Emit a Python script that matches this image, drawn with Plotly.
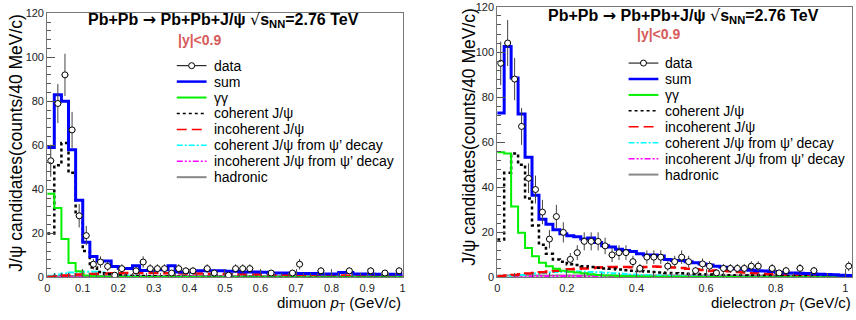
import numpy as np
import plotly.graph_objects as go

W, H = 856, 320
BIN = 0.02
FONT = "Liberation Sans, Arial, sans-serif"

# ---------------- Left panel: dimuon ----------------
mu_sum = [59, 83, 80, 58, 35, 16, 9.5, 7.5, 7.5, 5, 4, 4, 5.3, 3.2, 3.2, 3.5, 3.5, 5.3, 2.5, 2.5,
          3, 3, 3, 3, 3, 2.8, 2.8, 2.5, 2.5, 2.5, 2.3, 2, 2, 2, 2, 1.8, 1.8, 1.8, 1.6, 1.6,
          1.6, 2.2, 2.2, 1.5, 1.5, 1.5, 1.4, 1.4, 1.4, 1.4]
mu_gg = [38, 31.5, 17.5, 6.5, 2.8, 0.9, 0.5, 0.4, 0.3, 0.3, 0.3, 0.25, 0.25, 0.2, 0.2, 0.2, 0.2, 0.2, 0.15, 0.15,
         0.15, 0.15, 0.1, 0.1, 0.1, 0.1, 0.1, 0.1, 0.1, 0.1, 0.1, 0.1, 0.1, 0.1, 0.1, 0.1, 0.1, 0.1, 0.1, 0.1,
         0.1, 0.1, 0.1, 0.1, 0.1, 0.1, 0.1, 0.1, 0.1, 0.1]
mu_coh = [20, 51, 61, 47.5, 28.5, 12, 4.5, 2.5, 1.5, 1.2, 1.0, 0.8, 0.7, 0.6, 0.5, 0.5, 0.4, 0.4, 0.3, 0.3,
          0.25, 0.25, 0.2, 0.2, 0.2, 0.2, 0.15, 0.15, 0.15, 0.15, 0.1, 0.1, 0.1, 0.1, 0.1, 0.1, 0.1, 0.1, 0.1, 0.1,
          0.1, 0.1, 0.1, 0.1, 0.1, 0.1, 0.1, 0.1, 0.1, 0.1]
mu_incoh = [0.3, 0.6, 0.9, 1.1, 1.3, 1.5, 1.6, 1.7, 1.8, 1.9, 1.9, 2.0, 2.0, 2.0, 2.0, 2.0, 1.9, 1.9, 1.9, 1.8,
            1.8, 1.8, 1.7, 1.7, 1.6, 1.6, 1.5, 1.5, 1.4, 1.4, 1.3, 1.3, 1.2, 1.2, 1.1, 1.1, 1.0, 1.0, 1.0, 0.9,
            0.9, 0.9, 0.8, 0.8, 0.8, 0.8, 0.7, 0.7, 0.7, 0.7]
mu_coh_psi2s = [0.8, 1.3, 1.8, 2.2, 2.5, 2.6, 2.6, 2.4, 2.0, 1.6, 1.2, 0.9, 0.7, 0.5, 0.4, 0.3, 0.3, 0.2, 0.2, 0.2,
                0.15, 0.15, 0.1, 0.1, 0.1, 0.1, 0.1, 0.1, 0.1, 0.1, 0.1, 0.1, 0.1, 0.1, 0.1, 0.1, 0.1, 0.1, 0.1, 0.1,
                0.1, 0.1, 0.1, 0.1, 0.1, 0.1, 0.1, 0.1, 0.1, 0.1]
mu_incoh_psi2s = [0.1, 0.2, 0.3, 0.35, 0.4, 0.4, 0.45, 0.45, 0.45, 0.45, 0.45, 0.45, 0.4, 0.4, 0.4, 0.4, 0.35, 0.35, 0.35, 0.35,
                  0.3, 0.3, 0.3, 0.3, 0.3, 0.3, 0.25, 0.25, 0.25, 0.25, 0.25, 0.25, 0.2, 0.2, 0.2, 0.2, 0.2, 0.2, 0.2, 0.2,
                  0.2, 0.2, 0.2, 0.2, 0.2, 0.2, 0.2, 0.2, 0.2, 0.2]
mu_hadronic = [0.6, 0.6, 0.6, 0.6, 0.6, 0.6, 0.6, 0.6, 0.6, 0.6, 0.6, 0.6, 0.6, 0.6, 0.6, 0.6, 0.6, 0.6, 0.6, 0.6,
               0.6, 0.6, 0.6, 0.6, 0.6, 0.6, 0.6, 0.6, 0.6, 0.6, 0.6, 0.6, 0.6, 0.6, 0.6, 0.6, 0.6, 0.6, 0.6, 0.6,
               0.6, 0.6, 0.6, 0.6, 0.6, 0.6, 0.6, 0.6, 0.6, 0.6]
mu_data_x = [0.01, 0.03, 0.05, 0.07, 0.09, 0.11, 0.13, 0.15, 0.17, 0.19, 0.21, 0.25, 0.27, 0.29, 0.31, 0.33, 0.35,
             0.37, 0.39, 0.41, 0.45, 0.47, 0.51, 0.53, 0.55, 0.57, 0.63, 0.69, 0.71, 0.77, 0.85, 0.91, 0.95, 0.99]
mu_data_y = [53, 79, 92, 67, 28, 19, 6, 7, 5, 1, 4, 3, 7, 4, 4, 4, 2,
             4, 3, 3, 4, 2, 1, 4, 4, 4, 2, 2, 6, 3, 3, 3, 2, 3]
mu_data_err = [7.3, 8.9, 9.6, 8.2, 5.3, 4.4, 2.4, 2.6, 2.2, 1.0, 2.0, 1.7, 2.6, 2.0, 2.0, 2.0, 1.4,
               2.0, 1.7, 1.7, 2.0, 1.4, 1.0, 2.0, 2.0, 2.0, 1.4, 1.4, 2.4, 1.7, 1.7, 1.7, 1.4, 1.7]

# ---------------- Right panel: dielectron ----------------
el_sum = [73, 102.5, 88.5, 72.5, 53.3, 36.5, 25.8, 23.6, 21.2, 19.4, 18.5, 18, 17, 17.5, 15.5, 14, 13.5, 12.5, 12, 11.5,
          10.5, 10, 10, 9.5, 8, 7.5, 7.5, 7, 6.5, 6, 5.5, 5, 4.5, 4, 3.8, 3.6, 3.2, 3.0, 2.8, 2.6,
          2.2, 2.0, 2.0, 1.9, 1.7, 1.5, 1.4, 1.3, 1.2, 1.0, 0.9]
el_gg = [55.5, 55, 31.5, 19.8, 13, 9.4, 6.5, 5, 3.8, 3.0, 2.5, 2.2, 1.8, 1.4, 1.1, 0.9, 0.8, 0.6, 0.5, 0.5,
         0.4, 0.4, 0.3, 0.3, 0.3, 0.25, 0.25, 0.2, 0.2, 0.2, 0.2, 0.15, 0.15, 0.15, 0.15, 0.1, 0.1, 0.1, 0.1, 0.1,
         0.1, 0.1, 0.1, 0.1, 0.1, 0.1, 0.1, 0.1, 0.1, 0.1, 0.1]
el_coh = [16.8, 46.4, 55, 50, 35, 23, 14.5, 10.5, 8, 7, 5.8, 5.5, 5, 4.6, 4.3, 4, 3.8, 3.5, 3.2, 3.0,
          2.8, 2.6, 2.4, 2.2, 2.0, 1.9, 1.8, 1.6, 1.5, 1.4, 1.3, 1.2, 1.1, 1.0, 0.9, 0.9, 0.8, 0.8, 0.7, 0.7,
          0.6, 0.6, 0.6, 0.5, 0.5, 0.5, 0.5, 0.4, 0.4, 0.4, 0.4]
el_incoh = [0.5, 0.8, 1.1, 1.4, 1.7, 2.0, 2.3, 2.6, 3.0, 3.3, 3.6, 3.8, 4.0, 4.2, 4.4, 4.5, 4.6, 4.6, 4.6, 4.5,
            4.5, 4.6, 4.8, 4.7, 4.5, 4.4, 4.2, 3.9, 3.6, 3.3, 2.9, 3.1, 3.0, 2.7, 2.4, 2.2, 2.0, 1.8, 1.6, 1.4,
            1.2, 1.1, 1.0, 0.9, 0.8, 0.8, 0.7, 0.6, 0.6, 0.5, 0.4]
el_coh_psi2s = [0.3, 0.5, 0.8, 1.1, 1.4, 1.7, 2.0, 2.2, 2.4, 2.5, 2.6, 2.6, 2.5, 2.4, 2.3, 2.1, 1.9, 1.7, 1.5, 1.3,
                1.1, 1.0, 0.9, 0.8, 0.7, 0.6, 0.5, 0.5, 0.4, 0.4, 0.3, 0.3, 0.3, 0.25, 0.25, 0.2, 0.2, 0.2, 0.2, 0.15,
                0.15, 0.15, 0.1, 0.1, 0.1, 0.1, 0.1, 0.1, 0.1, 0.1, 0.1]
el_incoh_psi2s = [0.2, 0.3, 0.4, 0.5, 0.5, 0.6, 0.6, 0.6, 0.6, 0.6, 0.6, 0.6, 0.55, 0.55, 0.5, 0.5, 0.5, 0.5, 0.45, 0.45,
                  0.45, 0.4, 0.4, 0.4, 0.4, 0.35, 0.35, 0.35, 0.35, 0.3, 0.3, 0.3, 0.3, 0.3, 0.3, 0.25, 0.25, 0.25, 0.25, 0.25,
                  0.2, 0.2, 0.2, 0.2, 0.2, 0.2, 0.2, 0.2, 0.2, 0.2, 0.2]
el_hadronic = [0.9, 0.9, 0.9, 0.9, 0.9, 0.9, 0.9, 0.9, 0.9, 0.9, 0.9, 0.9, 0.9, 0.9, 0.9, 0.9, 0.9, 0.9, 0.9, 0.9,
               0.9, 0.9, 0.9, 0.9, 0.9, 0.9, 0.9, 0.9, 0.9, 0.9, 0.9, 0.9, 0.9, 0.9, 0.9, 0.9, 0.9, 0.9, 0.9, 0.9,
               0.9, 0.9, 0.9, 0.9, 0.9, 0.9, 0.9, 0.9, 0.9, 0.9, 0.9]
el_data_x = [0.01, 0.03, 0.05, 0.07, 0.09, 0.11, 0.13, 0.15, 0.17, 0.19, 0.21, 0.23, 0.25, 0.27, 0.29, 0.31, 0.33,
             0.35, 0.37, 0.39, 0.41, 0.43, 0.45, 0.47, 0.49, 0.51, 0.53, 0.55, 0.57, 0.59, 0.61, 0.63, 0.65, 0.67,
             0.69, 0.71, 0.73, 0.75, 0.79, 0.81, 0.83, 0.87, 0.91, 1.01]
el_data_y = [95, 104, 88, 67, 44, 39, 29, 17, 27, 20, 8, 11, 16, 16, 16, 14, 10,
             11, 11, 7, 4, 9, 9, 9, 5, 7, 9, 7, 3, 6, 5, 2, 4, 4,
             4, 4, 5, 5, 4, 2, 3, 4, 3, 5]
el_data_err = [9.7, 10.2, 9.4, 8.2, 6.6, 6.2, 5.4, 4.1, 5.2, 4.5, 2.8, 3.3, 4.0, 4.0, 4.0, 3.7, 3.2,
               3.3, 3.3, 2.6, 2.0, 3.0, 3.0, 3.0, 2.2, 2.6, 3.0, 2.6, 1.7, 2.4, 2.2, 1.4, 2.0, 2.0,
               2.0, 2.0, 2.2, 2.2, 2.0, 1.4, 1.7, 2.0, 1.7, 2.2]

legend_labels = ["data", "sum", "γγ", "coherent J/ψ", "incoherent J/ψ",
                 "coherent J/ψ from ψ’ decay", "incoherent J/ψ from ψ’ decay", "hadronic"]

STYLES = {
    "sum": dict(color="#0000ff", width=3, dash="solid"),
    "gg": dict(color="#00f000", width=2, dash="solid"),
    "coh": dict(color="#000000", width=2.5, dash="dot"),
    "incoh": dict(color="#ff0000", width=2.5, dash="10px,5px"),
    "cohpsi": dict(color="#00ffff", width=2, dash="6px,2px,2px,2px"),
    "incohpsi": dict(color="#ff00ff", width=2, dash="6px,2px,2px,2px,2px,2px"),
    "had": dict(color="#888888", width=2, dash="solid"),
}

fig = go.Figure()


def add_step(vals, style, xa, ya):
    edges = np.arange(len(vals) + 1) * BIN
    yv = list(vals) + [vals[-1]]
    fig.add_trace(go.Scatter(x=edges, y=yv, mode="lines", line_shape="hv",
                             line=style, xaxis=xa, yaxis=ya, showlegend=False,
                             hoverinfo="skip"))


def add_panel(series, dx, dy, derr, xa, ya):
    for key in ["had", "incohpsi", "cohpsi", "incoh", "coh", "gg", "sum"]:
        add_step(series[key], STYLES[key], xa, ya)
    # error bars first (drawn under the markers)
    fig.add_trace(go.Scatter(
        x=dx, y=dy, mode="markers", xaxis=xa, yaxis=ya, showlegend=False, hoverinfo="skip",
        marker=dict(size=2, color="rgba(0,0,0,0)"),
        error_y=dict(type="data", array=derr, color="#444444", thickness=1, width=0),
        error_x=dict(type="constant", value=BIN / 2, color="#444444", thickness=1, width=0),
    ))
    fig.add_trace(go.Scatter(
        x=dx, y=dy, mode="markers", xaxis=xa, yaxis=ya, showlegend=False,
        marker=dict(symbol="circle", size=6, color="white", line=dict(color="black", width=1)),
    ))


add_panel(dict(sum=mu_sum, gg=mu_gg, coh=mu_coh, incoh=mu_incoh, cohpsi=mu_coh_psi2s,
               incohpsi=mu_incoh_psi2s, had=mu_hadronic),
          mu_data_x, mu_data_y, mu_data_err, "x", "y")
add_panel(dict(sum=el_sum, gg=el_gg, coh=el_coh, incoh=el_incoh, cohpsi=el_coh_psi2s,
               incohpsi=el_incoh_psi2s, had=el_hadronic),
          el_data_x, el_data_y, el_data_err, "x2", "y2")

# ---- layout geometry (pixels) ----
L = dict(x0=44.5, x1=402.5, yb=282, yt=7.5)
R = dict(x0=497.7, x1=855.2, yb=282, yt=1.0)


def px(x):
    return x / W


def py(y):
    return 1 - y / H


axis_common = dict(showline=True, mirror=True, linecolor="#777777", linewidth=1,
                   ticks="inside", ticklen=8, tickcolor="#555555", showgrid=False, zeroline=False,
                   tickfont=dict(family=FONT, size=11, color="#222222"))

fig.update_layout(
    width=W, height=H, margin=dict(l=0, r=0, t=0, b=0),
    paper_bgcolor="white", plot_bgcolor="white", showlegend=False,
    xaxis=dict(domain=[px(L["x0"]), px(L["x1"])], range=[0, 1], dtick=0.1, anchor="y",
               minor=dict(dtick=0.02, ticklen=4, ticks="inside", tickcolor="#555555"), **axis_common),
    yaxis=dict(domain=[py(L["yb"]), py(L["yt"])], range=[0, 120], dtick=20, anchor="x",
               minor=dict(dtick=4, ticklen=4, ticks="inside", tickcolor="#555555"), **axis_common),
    xaxis2=dict(domain=[px(R["x0"]), px(R["x1"])], range=[0, 1.02], dtick=0.2, anchor="y2",
                minor=dict(dtick=0.05, ticklen=4, ticks="inside", tickcolor="#555555"), **axis_common),
    yaxis2=dict(domain=[py(R["yb"]), py(R["yt"])], range=[0, 120], dtick=20, anchor="x2",
                minor=dict(dtick=4, ticklen=4, ticks="inside", tickcolor="#555555"), **axis_common),
)

annotations = []
shapes = []

SYM = "DejaVu Sans"
TITLE = ("Pb+Pb <span style='font-family:" + SYM + "'>→</span> Pb+Pb+J/ψ "
         "<span style='font-family:" + SYM + ";font-weight:normal'>√</span>s<sub>NN</sub>=2.76 TeV")
YTITLE = "J/ψ candidates(counts/40 MeV/c)"

panels = [
    dict(title_x=222.5, title_y=14.5, cut_x=197.5, cut_y=35.5, leg_line=(175, 205), leg_text=210,
         leg_y0=62, ytitle_x=13, ytitle_top=6, xtitle="dimuon <i>p</i><sub>T</sub> (GeV/c)",
         xtitle_right=403, xtitle_y=309),
    dict(title_x=685.8, title_y=10.8, cut_x=660.5, cut_y=29.5, leg_line=(630, 660), leg_text=665,
         leg_y0=59.3, ytitle_x=469, ytitle_top=0, xtitle="dielectron <i>p</i><sub>T</sub> (GeV/c)",
         xtitle_right=856, xtitle_y=309),
]
LEG_STEP = 16.55
leg_keys = [None, "sum", "gg", "coh", "incoh", "cohpsi", "incohpsi", "had"]
leg_widths = {"sum": 2.5, "gg": 2, "coh": 1.5, "incoh": 1.5, "cohpsi": 1.5, "incohpsi": 1.5, "had": 2}

for p in panels:
    annotations.append(dict(xref="paper", yref="paper", x=px(p["title_x"]), y=py(p["title_y"]),
                            xanchor="center", yanchor="middle", showarrow=False,
                            text="<b>" + TITLE + "</b>", font=dict(family=FONT, size=16, color="black")))
    annotations.append(dict(xref="paper", yref="paper", x=px(p["cut_x"]), y=py(p["cut_y"]),
                            xanchor="center", yanchor="middle", showarrow=False,
                            text="<b>|y|&lt;0.9</b>", font=dict(family=FONT, size=14, color="#d65a5a")))
    annotations.append(dict(xref="paper", yref="paper", x=px(p["ytitle_x"]), y=py(p["ytitle_top"]),
                            xanchor="center", yanchor="top", showarrow=False, textangle=-90,
                            text=YTITLE, font=dict(family=FONT, size=17.5, color="black")))
    annotations.append(dict(xref="paper", yref="paper", x=px(p["xtitle_right"]), y=py(p["xtitle_y"]),
                            xanchor="right", yanchor="middle", showarrow=False,
                            text=p["xtitle"], font=dict(family=FONT, size=15, color="black")))
    for i, (lab, key) in enumerate(zip(legend_labels, leg_keys)):
        yy = py(p["leg_y0"] + i * LEG_STEP)
        xa, xb = p["leg_line"]
        if key is None:
            shapes.append(dict(type="line", xref="paper", yref="paper", x0=px(xa), x1=px(xb), y0=yy, y1=yy,
                               line=dict(color="black", width=1)))
            shapes.append(dict(type="circle", xref="paper", yref="paper", xsizemode="pixel", ysizemode="pixel",
                               xanchor=px((xa + xb) / 2), yanchor=yy, x0=-3, x1=3, y0=-3, y1=3,
                               fillcolor="white", line=dict(color="black", width=1)))
        else:
            st = dict(STYLES[key])
            st["width"] = leg_widths[key]
            shapes.append(dict(type="line", xref="paper", yref="paper", x0=px(xa), x1=px(xb), y0=yy, y1=yy,
                               line=st))
        annotations.append(dict(xref="paper", yref="paper", x=px(p["leg_text"]), y=yy,
                                xanchor="left", yanchor="middle", showarrow=False,
                                text=lab, font=dict(family=FONT, size=14, color="black")))

fig.update_layout(annotations=annotations, shapes=shapes)
fig.write_html("out.html")
